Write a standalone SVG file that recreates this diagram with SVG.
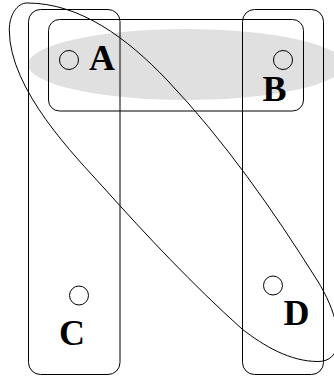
<svg xmlns="http://www.w3.org/2000/svg" width="334" height="376" viewBox="0 0 334 376">
  <style>
    .set { fill: none; stroke: #000; stroke-width: 1; }
    .pt { fill: none; stroke: #000; stroke-width: 1; }
    .lbl { font-family: "Liberation Serif", "Times New Roman", serif; font-weight: bold; font-size: 36px; fill: #000; text-anchor: middle; }
  </style>
  <rect width="334" height="376" fill="#fff"/>
  <g id="connectors">
    <ellipse id="set-AB-gray" cx="186" cy="64.5" rx="158" ry="35.5" fill="#e0e0e0" stroke="none"/>
    <rect id="set-AB" class="set" x="48.5" y="19.5" width="255" height="91.5" rx="11"/>
    <rect id="set-AC" class="set" x="28.5" y="9.5" width="91.5" height="365" rx="12"/>
    <rect id="set-BD" class="set" x="242.5" y="9.5" width="81" height="365" rx="12"/>
  </g>
  <g id="node-A">
    <circle class="pt" cx="69" cy="60" r="9.5"/>
    <text class="lbl" x="102" y="69.5">A</text>
  </g>
  <g id="node-B">
    <circle class="pt" cx="283" cy="60" r="9.5"/>
    <text class="lbl" x="274.5" y="100.5">B</text>
  </g>
  <g id="node-C">
    <circle class="pt" cx="79" cy="295.5" r="9.5"/>
    <text class="lbl" x="72" y="345">C</text>
  </g>
  <g id="node-D">
    <circle class="pt" cx="273" cy="285.5" r="9.5"/>
    <text class="lbl" x="296.5" y="325">D</text>
  </g>
  <g id="connectors-2">
    <path id="set-AD" class="set" d="M27,3 C80,3 127,38 167,80 C224,140 273,210 317,280 C341,318 348,361.5 318,361.5 C290,361.5 264,346 242,329 C193,285 147,236 103,187 C76,157 9.3,90 9.3,30 C9.3,15 17,3 27,3 Z"/>
  </g>
</svg>
